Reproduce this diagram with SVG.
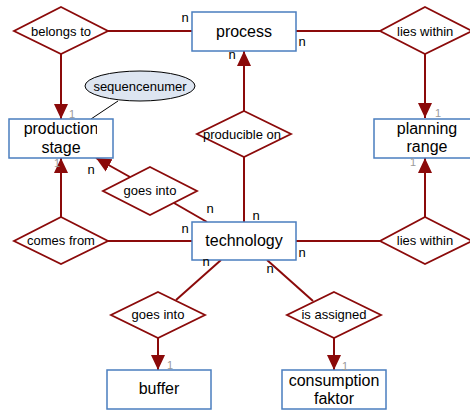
<svg xmlns="http://www.w3.org/2000/svg" width="470" height="410" viewBox="0 0 470 410">
  <style>
    .entity rect { fill: #ffffff; stroke: #4a7ebf; stroke-width: 1.5; }
    .rel polygon { fill: #ffffff; stroke: #8b0a0a; stroke-width: 1.8; }
    .etext { font-family: "Liberation Sans", Arial, sans-serif; font-size: 16px; fill: #000; text-anchor: middle; }
    .rtext { font-family: "Liberation Sans", Arial, sans-serif; font-size: 13px; fill: #000; text-anchor: middle; }
    .conn line { stroke: #8b0a0a; stroke-width: 2; fill: none; }
    .conn line.arrow { marker-end: url(#head); }
    .conn line.attr { stroke: #000; stroke-width: 1; }
    .card { font-family: "Liberation Sans", Arial, sans-serif; font-size: 13px; fill: #000; text-anchor: middle; }
    .one { font-family: "Liberation Sans", Arial, sans-serif; font-size: 11px; fill: #9a9a9a; text-anchor: middle; }
  </style>
  <defs>
    <marker id="head" markerUnits="userSpaceOnUse" markerWidth="16" markerHeight="16" viewBox="0 0 16 16" refX="15" refY="8" orient="auto">
      <polygon points="0,1 15,8 0,15" fill="#8b0a0a"/>
    </marker>
    <clipPath id="clipBelongs"><rect x="20" y="20" width="72" height="24"/></clipPath>
    <clipPath id="clipLies"><rect x="385" y="20" width="69" height="24"/></clipPath>
    <clipPath id="clipProd"><rect x="12" y="120" width="85" height="36"/></clipPath>
  </defs>

  <rect width="470" height="410" fill="#ffffff"/>

  <!-- connectors -->
  <g id="connectors" class="conn">
    <line x1="107" y1="31" x2="192" y2="31"/>
    <line class="arrow" x1="61" y1="54" x2="61" y2="119"/>
    <line x1="296" y1="31" x2="380" y2="31"/>
    <line class="arrow" x1="425" y1="54" x2="425" y2="118"/>
    <line class="arrow" x1="244" y1="111" x2="244" y2="51"/>
    <line x1="244" y1="157" x2="244" y2="222"/>
    <line class="arrow" x1="61" y1="217" x2="61" y2="158"/>
    <line x1="107" y1="241" x2="192" y2="241"/>
    <line x1="207" y1="222" x2="174" y2="203"/>
    <line class="arrow" x1="130" y1="177" x2="96" y2="158"/>
    <line x1="296" y1="241" x2="380" y2="241"/>
    <line class="arrow" x1="425" y1="217" x2="425" y2="158"/>
    <line x1="221" y1="260" x2="176" y2="300"/>
    <line class="arrow" x1="158" y1="338" x2="158" y2="370"/>
    <line x1="267" y1="260" x2="313" y2="301"/>
    <line class="arrow" x1="334" y1="338" x2="334" y2="370"/>
    <line class="attr" x1="118" y1="101" x2="91" y2="119"/>
  </g>

  <!-- entities -->
  <g id="process" class="entity">
    <rect x="192" y="12" width="104" height="39"/>
    <text class="etext" x="244" y="37">process</text>
  </g>
  <g id="production-stage" class="entity">
    <rect x="9" y="119" width="104" height="39"/>
    <g clip-path="url(#clipProd)">
      <text class="etext" x="61" y="134">production</text>
    </g>
    <text class="etext" x="61" y="153">stage</text>
  </g>
  <g id="planning-range" class="entity">
    <rect x="374" y="119" width="104" height="39"/>
    <text class="etext" x="427" y="134">planning</text>
    <text class="etext" x="427" y="152">range</text>
  </g>
  <g id="technology" class="entity">
    <rect x="192" y="222" width="104" height="38"/>
    <text class="etext" x="244" y="246">technology</text>
  </g>
  <g id="buffer" class="entity">
    <rect x="107" y="370" width="104" height="39"/>
    <text class="etext" x="159" y="394">buffer</text>
  </g>
  <g id="consumption-faktor" class="entity">
    <rect x="282" y="370" width="104" height="39"/>
    <text class="etext" x="334" y="386">consumption</text>
    <text class="etext" x="334" y="404">faktor</text>
  </g>

  <!-- attribute -->
  <g id="sequencenumer">
    <ellipse cx="140" cy="86" rx="55" ry="15" fill="#dde5f1" stroke="#000" stroke-width="1"/>
    <text class="rtext" x="140" y="91">sequencenumer</text>
  </g>

  <!-- relationships -->
  <g id="belongs-to" class="rel">
    <polygon points="61,7 108,31 61,54 14,31"/>
    <g clip-path="url(#clipBelongs)">
      <text class="rtext" x="31" y="36" style="text-anchor:start">belongs to</text>
    </g>
  </g>
  <g id="lies-within-top" class="rel">
    <polygon points="425,7 472,31 425,54 380,31"/>
    <g clip-path="url(#clipLies)">
      <text class="rtext" x="397" y="36" style="text-anchor:start">lies within</text>
    </g>
  </g>
  <g id="producible-on" class="rel">
    <polygon points="244,111 291,134 244,157 197,134"/>
    <text class="rtext" x="242" y="139">producible on</text>
  </g>
  <g id="goes-into-stage" class="rel">
    <polygon points="150,167 197,191 150,215 103,191"/>
    <text class="rtext" x="150" y="195">goes into</text>
  </g>
  <g id="comes-from" class="rel">
    <polygon points="61,217 108,241 61,264 14,241"/>
    <text class="rtext" x="61" y="245">comes from</text>
  </g>
  <g id="lies-within-bottom" class="rel">
    <polygon points="425,217 472,241 425,264 380,241"/>
    <text class="rtext" x="425" y="245">lies within</text>
  </g>
  <g id="goes-into-buffer" class="rel">
    <polygon points="158,292 205,315 158,338 111,315"/>
    <text class="rtext" x="158" y="319">goes into</text>
  </g>
  <g id="is-assigned" class="rel">
    <polygon points="334,292 381,315 334,338 287,315"/>
    <text class="rtext" x="334" y="319">is assigned</text>
  </g>

  <!-- cardinalities -->
  <g id="cardinalities">
    <text class="card" x="185" y="22">n</text>
    <text class="card" x="302" y="46">n</text>
    <text class="card" x="232" y="59">n</text>
    <text class="card" x="91" y="174">n</text>
    <text class="card" x="210" y="213">n</text>
    <text class="card" x="185" y="233">n</text>
    <text class="card" x="206" y="266">n</text>
    <text class="card" x="256" y="220">n</text>
    <text class="card" x="302" y="257">n</text>
    <text class="card" x="270" y="273">n</text>
    <text class="one" x="72" y="118">1</text>
    <text class="one" x="438" y="117">1</text>
    <text class="one" x="413" y="166">1</text>
    <text class="one" x="57" y="167">1</text>
    <text class="one" x="170" y="369">1</text>
    <text class="one" x="345" y="370">1</text>
  </g>
</svg>
